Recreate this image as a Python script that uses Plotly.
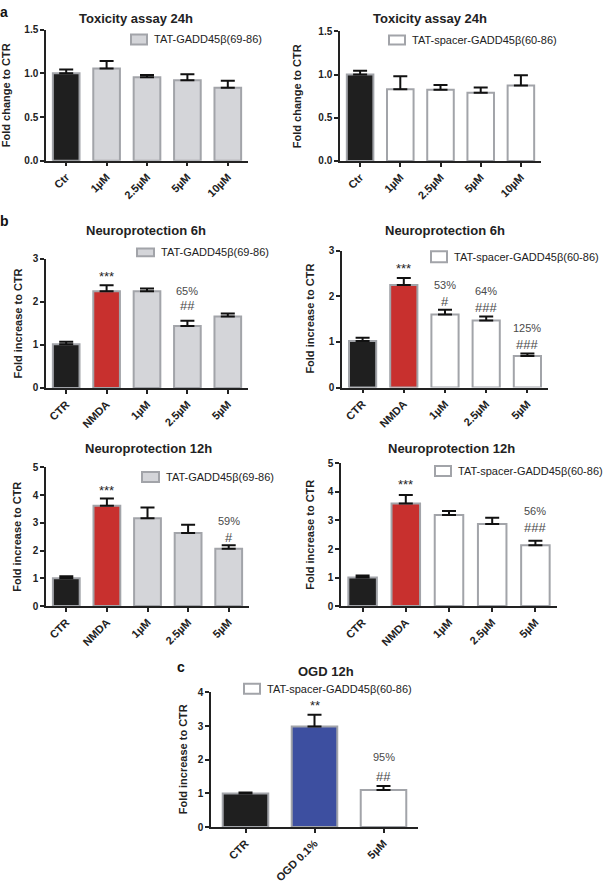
import plotly.graph_objects as go

# ---------------- data ----------------
tox_cats = ["Ctr", "1µM", "2.5µM", "5µM", "10µM"]
tox_gadd_mean = [1.0, 1.055, 0.955, 0.92, 0.835]
tox_gadd_sem = [0.045, 0.085, 0.025, 0.07, 0.08]
tox_spacer_mean = [1.0, 0.83, 0.824, 0.79, 0.873]
tox_spacer_sem = [0.045, 0.15, 0.055, 0.06, 0.12]

np_cats = ["CTR", "NMDA", "1µM", "2.5µM", "5µM"]
np6_gadd_mean = [1.016, 2.25, 2.25, 1.44, 1.664]
np6_gadd_sem = [0.06, 0.14, 0.06, 0.125, 0.066]
np6_spacer_mean = [1.02, 2.245, 1.60, 1.47, 0.69]
np6_spacer_sem = [0.07, 0.155, 0.106, 0.09, 0.057]
np12_gadd_mean = [1.0, 3.62, 3.17, 2.63, 2.07]
np12_gadd_sem = [0.07, 0.26, 0.38, 0.30, 0.12]
np12_spacer_mean = [1.0, 3.6, 3.19, 2.88, 2.13]
np12_spacer_sem = [0.07, 0.29, 0.14, 0.22, 0.16]

ogd_cats = ["CTR", "OGD 0.1%", "5µM"]
ogd_mean = [1.0, 2.99, 1.1]
ogd_sem = [0.025, 0.35, 0.12]

np6_gadd_stars = ["", "***", "", "", ""]
np6_gadd_pct = ["", "", "", "65%", ""]
np6_gadd_hash = ["", "", "", "##", ""]
np6_spacer_stars = ["", "***", "", "", ""]
np6_spacer_pct = ["", "", "53%", "64%", "125%"]
np6_spacer_hash = ["", "", "#", "###", "###"]
np12_gadd_stars = ["", "***", "", "", ""]
np12_gadd_pct = ["", "", "", "", "59%"]
np12_gadd_hash = ["", "", "", "", "#"]
np12_spacer_stars = ["", "***", "", "", ""]
np12_spacer_pct = ["", "", "", "", "56%"]
np12_spacer_hash = ["", "", "", "", "###"]
ogd_stars = ["", "**", ""]
ogd_pct = ["", "", "95%"]
ogd_hash = ["", "", "##"]

label_gadd = "TAT-GADD45β(69-86)"
label_spacer = "TAT-spacer-GADD45β(60-86)"

# ---------------- style ----------------
W, H = 606, 883
BLACK = "#1f1f1f"
RED = "#c8302e"
GREY = "#d4d5d9"
WHITE = "#ffffff"
BLUE = "#3d4fa0"
EDGE = "#a2a4a9"
FONT = "Liberation Sans, Arial, sans-serif"


def fx(px):
    return px / W


def fy(py):
    return 1 - py / H


panels = [
    dict(cats=tox_cats, mean=tox_gadd_mean, sem=tox_gadd_sem,
         colors=[BLACK] + [GREY] * 4, xd=(46, 248), yd=(24, 157), ymax=1.5, dtick=0.5, fmt=".1f",
         title="Toxicity assay 24h", txy=(136, 12.5), box=(131, 29, 147, 39), lfill=GREY, label=label_gadd,
         ytitle="Fold change to CTR", ytx=6, ann=None),
    dict(cats=tox_cats, mean=tox_spacer_mean, sem=tox_spacer_sem,
         colors=[BLACK] + [WHITE] * 4, xd=(340, 541), yd=(25.7, 157.3), ymax=1.5, dtick=0.5, fmt=".1f",
         title="Toxicity assay 24h", txy=(430, 12.5), box=(389, 30, 405, 39), lfill=WHITE, label=label_spacer,
         ytitle="Fold change to CTR", ytx=297, ann=None),
    dict(cats=np_cats, mean=np6_gadd_mean, sem=np6_gadd_sem,
         colors=[BLACK, RED] + [GREY] * 3, xd=(46, 248), yd=(256.7, 387.7), ymax=3, dtick=1, fmt="d",
         title="Neuroprotection 6h", txy=(146, 228), box=(137, 246, 154, 254), lfill=GREY, label=label_gadd,
         ytitle="Fold increase to CTR", ytx=18,
         ann=(np6_gadd_stars, np6_gadd_pct, np6_gadd_hash), off=(11.6, 30, 15.5)),
    dict(cats=np_cats, mean=np6_spacer_mean, sem=np6_spacer_sem,
         colors=[BLACK, RED] + [WHITE] * 3, xd=(342, 548), yd=(248.3, 387.3), ymax=3, dtick=1, fmt="d",
         title="Neuroprotection 6h", txy=(445, 228), box=(431, 249, 447, 260), lfill=WHITE, label=label_spacer,
         ytitle="Fold increase to CTR", ytx=310.5,
         ann=(np6_spacer_stars, np6_spacer_pct, np6_spacer_hash), off=(13, 25, 8.5)),
    dict(cats=np_cats, mean=np12_gadd_mean, sem=np12_gadd_sem,
         colors=[BLACK, RED] + [GREY] * 3, xd=(46, 249), yd=(468.3, 609), ymax=5, dtick=1, fmt="d",
         title="Neuroprotection 12h", txy=(148, 449), box=(142, 473, 159, 483), lfill=GREY, label=label_gadd,
         ytitle="Fold increase to CTR", ytx=17,
         ann=(np12_gadd_stars, np12_gadd_pct, np12_gadd_hash), off=(11, 24, 7.5)),
    dict(cats=np_cats, mean=np12_spacer_mean, sem=np12_spacer_sem,
         colors=[BLACK, RED] + [WHITE] * 3, xd=(341, 557), yd=(464.3, 609), ymax=5, dtick=1, fmt="d",
         title="Neuroprotection 12h", txy=(451, 449), box=(435, 467, 451, 477), lfill=WHITE, label=label_spacer,
         ytitle="Fold increase to CTR", ytx=310,
         ann=(np12_spacer_stars, np12_spacer_pct, np12_spacer_hash), off=(13.7, 29.7, 13.7)),
    dict(cats=ogd_cats, mean=ogd_mean, sem=ogd_sem,
         colors=[BLACK, BLUE, WHITE], xd=(211, 418), yd=(696.7, 833.3), ymax=4, dtick=1, fmt="d",
         title="OGD 12h", txy=(326, 675), box=(244, 688, 260, 698), lfill=WHITE, label=label_spacer,
         ytitle="Fold increase to CTR", ytx=182.5,
         ann=(ogd_stars, ogd_pct, ogd_hash), off=(12, 28.7, 9.7)),
]

fig = go.Figure()
annotations = []
shapes = []

for i, p in enumerate(panels, start=1):
    xa = "x" if i == 1 else f"x{i}"
    ya = "y" if i == 1 else f"y{i}"
    xk = "xaxis" if i == 1 else f"xaxis{i}"
    yk = "yaxis" if i == 1 else f"yaxis{i}"
    n = len(p["cats"])
    fig.add_trace(go.Bar(
        x=p["cats"], y=p["mean"], xaxis=xa, yaxis=ya, width=0.66,
        marker=dict(color=p["colors"], line=dict(color=EDGE, width=2)),
        error_y=dict(type="data", symmetric=False, array=p["sem"], arrayminus=[0] * n,
                     color="#111111", thickness=2, width=7),
        showlegend=False, hoverinfo="skip",
    ))
    fig.update_layout({
        xk: dict(domain=[fx(p["xd"][0]), fx(p["xd"][1])], anchor=ya, type="category",
                 range=[-0.5, n - 0.5], showline=True, linecolor="#222", linewidth=1.5,
                 ticks="outside", ticklen=4, tickwidth=1.5, tickcolor="#222", tickangle=-45,
                 tickfont=dict(family=FONT, size=11, color="#222", weight="bold"),
                 showgrid=False, zeroline=False, fixedrange=True),
        yk: dict(domain=[fy(p["yd"][1]), fy(p["yd"][0])], anchor=xa, range=[0, p["ymax"]],
                 dtick=p["dtick"], tick0=0, tickformat=p["fmt"], showline=True, linecolor="#222",
                 linewidth=1.5, ticks="outside", ticklen=4, tickwidth=1.5, tickcolor="#222",
                 tickfont=dict(family=FONT, size=10, color="#222", weight="bold"),
                 showgrid=False, zeroline=False, fixedrange=True),
    })
    # panel title
    annotations.append(dict(text=f"<b>{p['title']}</b>", x=fx(p["txy"][0]), y=fy(p["txy"][1]),
                            xref="paper", yref="paper", xanchor="center", yanchor="middle",
                            showarrow=False, font=dict(family=FONT, size=13, color="#222")))
    # y title
    annotations.append(dict(text=f"<b>{p['ytitle']}</b>", x=fx(p["ytx"]),
                            y=fy((p["yd"][0] + p["yd"][1]) / 2), xref="paper", yref="paper",
                            xanchor="center", yanchor="middle", textangle=-90, showarrow=False,
                            font=dict(family=FONT, size=11, color="#222")))
    # legend
    x0, y0, x1, y1 = p["box"]
    shapes.append(dict(type="rect", xref="paper", yref="paper", x0=fx(x0), x1=fx(x1),
                       y0=fy(y1), y1=fy(y0), fillcolor=p["lfill"], line=dict(color=EDGE, width=2)))
    annotations.append(dict(text=p["label"], x=fx(x1 + 6), y=fy((y0 + y1) / 2), xref="paper",
                            yref="paper", xanchor="left", yanchor="middle", showarrow=False,
                            borderpad=0, font=dict(family=FONT, size=11, color="#222")))
    # significance marks
    if p["ann"]:
        stars, pct, hsh = p["ann"]
        s_off, p_off, h_off = p["off"]
        for j in range(n):
            top = p["mean"][j] + p["sem"][j]
            if stars[j]:
                annotations.append(dict(text=stars[j], x=p["cats"][j], y=top, xref=xa, yref=ya,
                                        yanchor="middle", yshift=s_off - 3, showarrow=False,
                                        borderpad=0, font=dict(family=FONT, size=13, color="#222")))
            if pct[j]:
                annotations.append(dict(text=pct[j], x=p["cats"][j], y=top, xref=xa, yref=ya,
                                        yanchor="middle", yshift=p_off, showarrow=False,
                                        borderpad=0, font=dict(family=FONT, size=11, color="#4a4a4a")))
            if hsh[j]:
                annotations.append(dict(text=hsh[j], x=p["cats"][j], y=top, xref=xa, yref=ya,
                                        yanchor="middle", yshift=h_off, showarrow=False,
                                        borderpad=0, font=dict(family=FONT, size=13, color="#4a4a4a")))

# panel letters
for letter, (lx, ly) in {"a": (4, 6), "b": (4, 218), "c": (181, 671)}.items():
    annotations.append(dict(text=f"<b>{letter}</b>", x=fx(lx), y=fy(ly), xref="paper", yref="paper",
                            xanchor="center", yanchor="middle", showarrow=False,
                            font=dict(family=FONT, size=14, color="#111")))

fig.update_layout(width=W, height=H, margin=dict(l=0, r=0, t=0, b=0), autosize=False,
                  paper_bgcolor="white", plot_bgcolor="white", annotations=annotations,
                  shapes=shapes, bargap=0.34, font=dict(family=FONT))

fig.write_html("out.html", config={"displayModeBar": False},
               post_script="document.body.style.margin='0';document.body.style.overflow='hidden';")
